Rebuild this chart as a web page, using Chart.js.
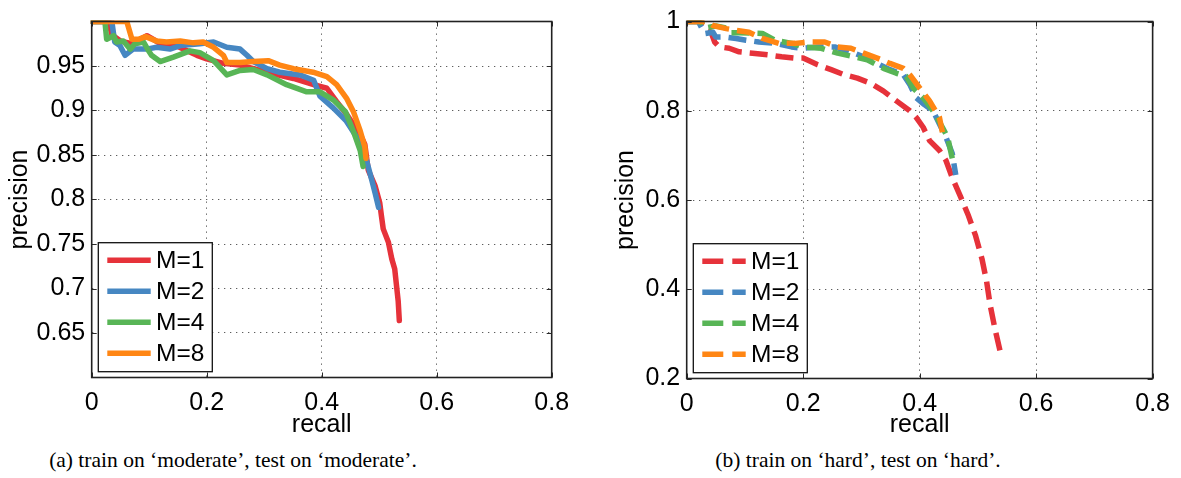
<!DOCTYPE html>
<html><head><meta charset="utf-8">
<script src="https://cdn.jsdelivr.net/npm/chart.js@4.4.0/dist/chart.umd.min.js"></script>
<style>
html,body{margin:0;padding:0;background:#fff;width:1181px;height:478px;overflow:hidden;}
#c1{position:absolute;left:0;top:0;}
#c2{position:absolute;left:590px;top:0;}
.cap{position:absolute;top:450px;width:420px;text-align:center;font-family:'Liberation Serif','Times New Roman',serif;font-size:21.5px;line-height:1;white-space:nowrap;color:#000;}
</style></head><body>
<canvas id="c1" width="590" height="440"></canvas>
<canvas id="c2" width="591" height="440"></canvas>
<div class="cap" style="left:23px">(a) train on ‘moderate’, test on ‘moderate’.</div>
<div class="cap" style="left:648px">(b) train on ‘hard’, test on ‘hard’.</div>
<script>
// ---------- data ----------
const seriesLabels = ['M=1', 'M=2', 'M=4', 'M=8'];
const seriesColors = ['#e6323a', '#4687c2', '#58b556', '#ff8614'];
const xTicks = [0, 0.2, 0.4, 0.6, 0.8];
const yTicksModerate = [0.65, 0.7, 0.75, 0.8, 0.85, 0.9, 0.95];
const yTicksHard = [0.2, 0.4, 0.6, 0.8, 1];

// (a) moderate / moderate
const modRecallM1 = [0, 0.03, 0.035, 0.05, 0.07, 0.096, 0.12, 0.15, 0.183, 0.2, 0.229, 0.258, 0.305, 0.351, 0.386, 0.409, 0.426, 0.443, 0.467, 0.475, 0.481, 0.493, 0.501, 0.504, 0.507, 0.516, 0.522, 0.527, 0.53, 0.533, 0.535];
const modPrecM1   = [1, 1, 0.985, 0.978, 0.975, 0.984, 0.975, 0.972, 0.962, 0.958, 0.953, 0.951, 0.943, 0.936, 0.929, 0.925, 0.91, 0.896, 0.873, 0.862, 0.833, 0.815, 0.796, 0.781, 0.767, 0.752, 0.733, 0.722, 0.704, 0.686, 0.664];
const modRecallM2 = [0, 0.035, 0.04, 0.049, 0.058, 0.072, 0.096, 0.113, 0.136, 0.154, 0.188, 0.212, 0.235, 0.258, 0.27, 0.281, 0.305, 0.327, 0.362, 0.386, 0.397, 0.42, 0.443, 0.461, 0.478, 0.487, 0.493, 0.499];
const modPrecM2   = [1, 1, 0.977, 0.973, 0.962, 0.969, 0.969, 0.971, 0.969, 0.973, 0.975, 0.977, 0.971, 0.969, 0.962, 0.955, 0.947, 0.943, 0.94, 0.934, 0.916, 0.903, 0.888, 0.87, 0.844, 0.822, 0.807, 0.791];
const modRecallM4 = [0, 0.023, 0.026, 0.038, 0.043, 0.055, 0.067, 0.075, 0.09, 0.099, 0.104, 0.119, 0.142, 0.171, 0.188, 0.212, 0.235, 0.258, 0.281, 0.305, 0.339, 0.374, 0.397, 0.42, 0.441, 0.455, 0.467, 0.472];
const modPrecM4   = [1, 1, 0.98, 0.984, 0.977, 0.978, 0.969, 0.975, 0.977, 0.967, 0.962, 0.955, 0.96, 0.967, 0.965, 0.956, 0.94, 0.945, 0.946, 0.94, 0.929, 0.921, 0.921, 0.912, 0.899, 0.877, 0.855, 0.837];
const modRecallM8 = [0, 0.061, 0.07, 0.081, 0.094, 0.113, 0.13, 0.154, 0.177, 0.194, 0.212, 0.229, 0.235, 0.258, 0.281, 0.307, 0.327, 0.351, 0.385, 0.409, 0.426, 0.443, 0.455, 0.467, 0.475, 0.477];
const modPrecM8   = [1, 1, 0.98, 0.98, 0.983, 0.978, 0.977, 0.978, 0.976, 0.977, 0.971, 0.962, 0.954, 0.954, 0.955, 0.956, 0.951, 0.947, 0.943, 0.938, 0.929, 0.914, 0.899, 0.877, 0.859, 0.846];

// (b) hard / hard
const hardRecallM1 = [0, 0.022, 0.028, 0.042, 0.048, 0.056, 0.073, 0.09, 0.113, 0.141, 0.163, 0.186, 0.2, 0.225, 0.248, 0.27, 0.293, 0.315, 0.338, 0.36, 0.383, 0.394, 0.406, 0.417, 0.434, 0.445, 0.456, 0.47, 0.484, 0.496, 0.507, 0.515, 0.521, 0.529, 0.538, 0.542];
const hardPrecM1   = [1, 1, 0.984, 0.976, 0.954, 0.943, 0.94, 0.932, 0.929, 0.925, 0.921, 0.918, 0.918, 0.903, 0.892, 0.881, 0.873, 0.862, 0.844, 0.822, 0.8, 0.785, 0.763, 0.733, 0.711, 0.689, 0.65, 0.608, 0.564, 0.52, 0.468, 0.417, 0.365, 0.313, 0.262, 0.258];
const hardRecallM2 = [0, 0.02, 0.031, 0.045, 0.05, 0.068, 0.085, 0.102, 0.124, 0.152, 0.18, 0.2, 0.225, 0.254, 0.282, 0.304, 0.327, 0.349, 0.372, 0.383, 0.394, 0.408, 0.423, 0.434, 0.445, 0.456, 0.462];
const hardPrecM2   = [1, 1, 0.973, 0.976, 0.965, 0.965, 0.962, 0.958, 0.954, 0.951, 0.943, 0.94, 0.943, 0.943, 0.932, 0.921, 0.906, 0.892, 0.881, 0.859, 0.829, 0.814, 0.8, 0.77, 0.741, 0.704, 0.656];
const hardRecallM4 = [0, 0.025, 0.03, 0.05, 0.07, 0.075, 0.09, 0.13, 0.152, 0.18, 0.2, 0.231, 0.259, 0.287, 0.31, 0.338, 0.36, 0.377, 0.389, 0.406, 0.423, 0.439, 0.448, 0.453, 0.456];
const hardPrecM4   = [1, 1, 0.985, 0.99, 0.985, 0.975, 0.975, 0.973, 0.958, 0.951, 0.943, 0.94, 0.929, 0.921, 0.914, 0.895, 0.884, 0.877, 0.851, 0.829, 0.8, 0.763, 0.741, 0.711, 0.693];
const hardRecallM8 = [0, 0.035, 0.045, 0.068, 0.085, 0.107, 0.13, 0.158, 0.186, 0.214, 0.237, 0.259, 0.282, 0.304, 0.327, 0.349, 0.372, 0.383, 0.4, 0.417, 0.434, 0.439];
const hardPrecM8   = [1, 1, 0.991, 0.984, 0.98, 0.976, 0.962, 0.951, 0.951, 0.954, 0.954, 0.943, 0.94, 0.929, 0.918, 0.906, 0.895, 0.881, 0.851, 0.822, 0.785, 0.752];

// ---------- rendering ----------
const FONT = "'Liberation Sans', Arial, Helvetica, sans-serif";
Chart.defaults.font.family = FONT;
Chart.defaults.font.size = 25;
Chart.defaults.color = '#000';

const framePlugin = {
  id: 'frameLegend',
  afterDatasetsDraw(chart) {
    const {ctx, chartArea: a, scales: {x, y}} = chart;
    const opts = chart.options.plugins.frameLegend || {};
    ctx.save();
    // inner tick marks (all four sides)
    ctx.strokeStyle = '#2b2b2b';
    ctx.lineWidth = 1;
    ctx.setLineDash([]);
    ctx.beginPath();
    x.ticks.forEach(t => {
      const px = Math.round(x.getPixelForValue(t.value)) + 0.5;
      ctx.moveTo(px, a.bottom); ctx.lineTo(px, a.bottom - 5);
      ctx.moveTo(px, a.top); ctx.lineTo(px, a.top + 5);
    });
    y.ticks.forEach(t => {
      const py = Math.round(y.getPixelForValue(t.value)) + 0.5;
      ctx.moveTo(a.left, py); ctx.lineTo(a.left + 5, py);
      ctx.moveTo(a.right, py); ctx.lineTo(a.right - 5, py);
    });
    ctx.stroke();
    // axes box
    ctx.lineWidth = 1.6;
    ctx.strokeStyle = '#222';
    ctx.strokeRect(a.left, a.top, a.right - a.left, a.bottom - a.top);
    // legend box
    const bw = 114, bh = 129;
    const bx = a.left + 6.6, by = a.bottom - 5.8 - bh;
    ctx.fillStyle = '#fff';
    ctx.fillRect(bx, by, bw, bh);
    ctx.lineWidth = 1.3;
    ctx.strokeStyle = '#111';
    ctx.strokeRect(bx, by, bw, bh);
    chart.data.datasets.forEach((ds, i) => {
      const yy = by + 17.5 + i * 31;
      ctx.beginPath();
      ctx.setLineDash(opts.dashed ? [21, 9] : []);
      ctx.lineWidth = 5.5;
      ctx.lineCap = 'butt';
      ctx.strokeStyle = ds.borderColor;
      ctx.moveTo(bx + 9, yy);
      ctx.lineTo(bx + 52.4, yy);
      ctx.stroke();
      ctx.setLineDash([]);
      ctx.fillStyle = '#000';
      ctx.font = '24.5px ' + FONT;
      ctx.textBaseline = 'middle';
      ctx.textAlign = 'left';
      ctx.fillText(ds.label, bx + 57.7, yy + 1);
    });
    ctx.restore();
  }
};

function makeChart(canvasId, recalls, precs, yTicks, yMin, yMax, dims, dashed) {
  const datasets = seriesLabels.map((lab, i) => ({
    label: lab,
    data: recalls[i].map((r, k) => ({x: r, y: precs[i][k]})),
    borderColor: seriesColors[i],
    backgroundColor: seriesColors[i],
    borderWidth: 5.5,
    borderDash: dashed ? [18, 8] : [],
    borderJoinStyle: 'round',
    borderCapStyle: dashed ? 'butt' : 'round',
    pointRadius: 0,
    tension: 0,
    fill: false,
    order: seriesLabels.length - i,
    clip: 1
  }));
  return new Chart(document.getElementById(canvasId), {
    type: 'line',
    data: {datasets},
    options: {
      responsive: false,
      animation: false,
      devicePixelRatio: 1,
      layout: {padding: {left: 0, right: dims.padRight, top: dims.padTop, bottom: 0}},
      plugins: {
        legend: {display: false},
        tooltip: {enabled: false},
        frameLegend: {dashed}
      },
      scales: {
        x: {
          type: 'linear',
          min: 0, max: 0.8,
          afterBuildTicks: s => { s.ticks = xTicks.map(v => ({value: v})); },
          afterFit: s => { s.height = dims.xHeight; },
          ticks: {padding: 11, autoSkip: false, maxRotation: 0, color: '#000',
                  callback: v => String(v)},
          grid: {color: 'rgba(40,40,40,0.75)', lineWidth: 1, drawTicks: false},
          border: {display: false, dash: [1.3, 4.7]},
          title: {display: true, text: 'recall', color: '#000', padding: {top: 0, bottom: 0},
                  font: {size: 25}}
        },
        y: {
          type: 'linear',
          min: yMin, max: yMax,
          afterBuildTicks: s => { s.ticks = yTicks.map(v => ({value: v})); },
          afterFit: s => { s.width = dims.yWidth; },
          ticks: {padding: 6.5, autoSkip: false, color: '#000', callback: v => String(v)},
          grid: {color: 'rgba(40,40,40,0.75)', lineWidth: 1, drawTicks: false},
          border: {display: false, dash: [1.3, 4.7]},
          title: {display: true, text: 'precision', color: '#000',
                  padding: {top: dims.yTitlePad, bottom: 0}, font: {size: 25}}
        }
      }
    },
    plugins: [framePlugin]
  });
}

makeChart('c1',
  [modRecallM1, modRecallM2, modRecallM4, modRecallM8],
  [modPrecM1, modPrecM2, modPrecM4, modPrecM8],
  yTicksModerate, 0.6, 1.0,
  {padRight: 38.3, padTop: 15.5, yWidth: 91.7, xHeight: 62.5, yTitlePad: 5},
  false);

makeChart('c2',
  [hardRecallM1, hardRecallM2, hardRecallM4, hardRecallM8],
  [hardPrecM1, hardPrecM2, hardPrecM4, hardPrecM8],
  yTicksHard, 0.2, 1.0,
  {padRight: 21, padTop: 16, yWidth: 96.7, xHeight: 61.5, yTitlePad: 21},
  true);
</script>
</body></html>
